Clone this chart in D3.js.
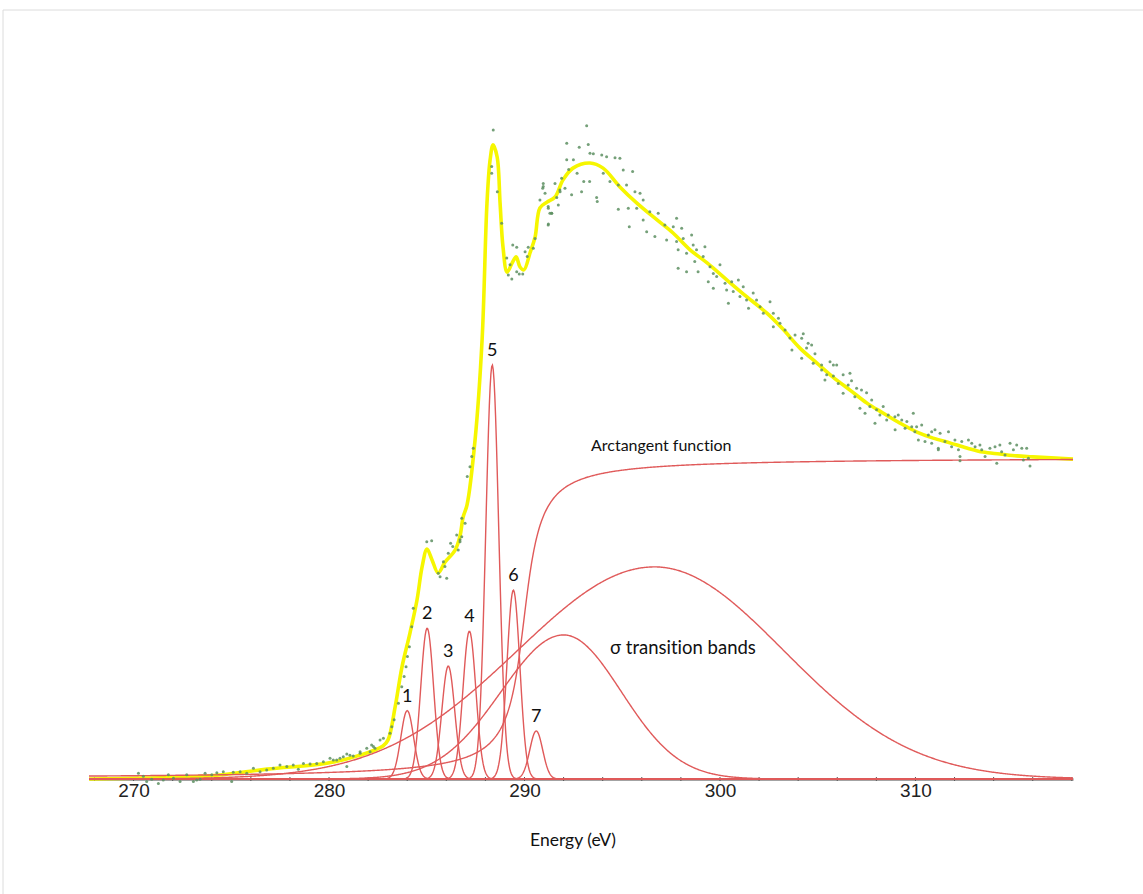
<!DOCTYPE html>
<html>
<head>
<meta charset="utf-8">
<script src="https://cdn.jsdelivr.net/npm/d3@7"></script>
<style>
  html, body { margin: 0; padding: 0; background: #fff; }
  svg { display: block; }
  text { font-variant-ligatures: none; }
</style>
</head>
<body>
<svg id="chart" width="1143" height="894"></svg>
<script>
// Energy axis ticks (eV)
const tickEnergies = [270, 280, 290, 300, 310];
const minorTickEnergies = d3.range(268, 319, 2);

// Fitted pre-edge / edge peaks (Gaussian components): id, centre (eV), height, sigma (eV)
const peakIds = ['1', '2', '3', '4', '5', '6', '7'];
const peakCenters = [284.0, 285.02, 286.1, 287.18, 288.35, 289.43, 290.6];
const peakHeights = [0.215, 0.474, 0.355, 0.465, 1.302, 0.594, 0.151];
const peakSigmas = [0.33, 0.33, 0.33, 0.33, 0.33, 0.33, 0.33];

// Broad sigma* transition bands (asymmetric Gaussians)
const bandCenters = [292.0, 296.65];
const bandHeights = [0.453, 0.667];
const bandSigmaLeft = [3.2, 7.0];
const bandSigmaRight = [2.95, 6.6];

// Arctangent edge step
const stepCenter = 289.98;
const stepWidth = 0.64;
const stepHeight = 1.012;

// Total fit curve (yellow): [energy, intensity]
const fitCurve = [
  [267.72, 0.0], [270.5, 0.003], [273.76, 0.009], [276.83, 0.031], [279.95, 0.05],
  [281.59, 0.075], [282.76, 0.104], [283.02, 0.123], [283.38, 0.226], [283.73, 0.352],
  [284.14, 0.459], [284.5, 0.563], [284.76, 0.667], [285.01, 0.723], [285.27, 0.689],
  [285.58, 0.648], [285.93, 0.682], [286.45, 0.72], [286.7, 0.764], [286.86, 0.824],
  [287.06, 0.862], [287.47, 1.066], [287.83, 1.381], [288.08, 1.811], [288.24, 1.947],
  [288.39, 1.994], [288.6, 1.956], [288.75, 1.811], [288.9, 1.673], [289.11, 1.594],
  [289.37, 1.623], [289.57, 1.642], [289.77, 1.61], [289.97, 1.601], [290.28, 1.654],
  [290.54, 1.704], [290.79, 1.796], [291.15, 1.814], [291.56, 1.83], [291.97, 1.884],
  [292.48, 1.921], [293.35, 1.937], [294.02, 1.921], [294.88, 1.862], [295.75, 1.811],
  [296.78, 1.758], [297.6, 1.717], [298.47, 1.664], [299.34, 1.623], [300.36, 1.569],
  [301.38, 1.516], [302.4, 1.465], [303.17, 1.418], [304.09, 1.355], [304.96, 1.308],
  [305.78, 1.264], [306.65, 1.223], [307.52, 1.182], [308.34, 1.151], [309.21, 1.119],
  [310.08, 1.091], [310.9, 1.072], [311.76, 1.057], [312.63, 1.041], [313.45, 1.028],
  [314.32, 1.022], [315.19, 1.016], [316.01, 1.013], [318.06, 1.006]
];

// Measured spectrum points (green dots): [energy, intensity]
const measured = [
  [270.25, 0.018], [270.5, 0.009], [270.67, -0.008], [270.93, -0.001], [271.27, -0.014],
  [271.52, -0.003], [271.78, 0.013], [272.04, 0.002], [272.38, -0.008], [272.72, 0.013],
  [273.06, -0.008], [273.23, -0.003], [273.4, -0.001], [273.66, 0.018], [274.0, 0.013],
  [274.26, 0.02], [274.59, 0.023], [275.02, -0.008], [275.1, 0.021], [275.45, 0.023],
  [275.79, 0.018], [276.13, 0.034], [276.47, 0.023], [276.81, 0.028], [277.15, 0.034],
  [277.49, 0.044], [277.84, 0.039], [278.17, 0.044], [278.43, 0.031], [278.69, 0.049],
  [279.03, 0.047], [279.37, 0.049], [279.71, 0.054], [280.05, 0.065], [280.22, 0.06],
  [280.39, 0.06], [280.56, 0.065], [280.73, 0.07], [280.91, 0.079], [280.91, 0.039],
  [281.07, 0.075], [281.24, 0.072], [281.59, 0.081], [281.59, 0.086], [281.93, 0.097],
  [282.1, 0.086], [282.18, 0.107], [282.27, 0.102], [282.35, 0.097], [282.61, 0.123],
  [282.78, 0.128], [283.12, 0.144], [283.21, 0.164], [283.33, 0.186], [283.55, 0.238],
  [283.72, 0.29], [283.84, 0.322], [283.94, 0.353], [284.01, 0.385], [284.11, 0.416],
  [284.23, 0.479], [284.31, 0.537], [285.0, 0.746], [285.25, 0.749], [285.59, 0.647],
  [285.68, 0.636], [285.85, 0.683], [285.93, 0.668], [286.02, 0.631], [286.1, 0.71],
  [286.22, 0.741], [286.33, 0.731], [286.53, 0.767], [286.61, 0.72], [286.7, 0.746],
  [286.7, 0.752], [286.79, 0.762], [286.79, 0.82], [286.96, 0.804], [287.07, 0.951],
  [287.21, 0.982], [287.3, 1.014], [287.38, 1.04], [288.4, 2.041], [288.32, 1.926],
  [288.32, 1.905], [288.61, 1.847], [288.83, 1.748], [289.4, 1.679], [289.6, 1.672],
  [289.09, 1.638], [289.26, 1.617], [289.17, 1.585], [289.35, 1.572], [289.6, 1.595],
  [289.73, 1.588], [289.91, 1.588], [290.03, 1.658], [290.19, 1.672], [290.14, 1.643],
  [290.45, 1.669], [290.54, 1.7], [290.79, 1.821], [290.96, 1.873], [291.05, 1.842],
  [290.93, 1.858], [291.22, 1.795], [291.3, 1.779], [291.39, 1.779], [291.22, 1.745],
  [291.65, 1.829], [291.82, 1.847], [291.73, 1.805], [291.9, 1.889], [292.07, 1.858],
  [293.18, 2.054], [292.16, 1.999], [292.8, 1.987], [293.26, 1.995], [293.35, 1.968],
  [293.52, 1.966], [293.95, 1.962], [294.2, 1.957], [294.63, 1.954], [294.88, 1.952],
  [292.16, 1.947], [292.5, 1.947], [292.26, 1.917], [292.69, 1.905], [293.03, 1.879],
  [293.33, 1.879], [292.92, 1.847], [292.41, 1.837], [291.81, 1.852], [291.56, 1.873],
  [290.96, 1.863], [291.21, 1.8], [291.39, 1.779], [291.21, 1.742], [293.69, 1.829],
  [293.72, 1.816], [294.03, 1.905], [294.37, 1.879], [294.8, 1.868], [295.05, 1.915],
  [295.53, 1.91], [295.22, 1.868], [295.65, 1.847], [295.91, 1.842], [294.8, 1.792],
  [295.31, 1.795], [295.74, 1.795], [295.36, 1.737], [296.07, 1.821], [296.41, 1.784],
  [296.07, 1.758], [296.84, 1.779], [296.25, 1.721], [296.67, 1.706], [297.18, 1.742],
  [297.61, 1.737], [297.78, 1.763], [298.04, 1.732], [297.27, 1.695], [297.78, 1.69],
  [298.12, 1.7], [298.55, 1.711], [298.63, 1.679], [297.86, 1.664], [298.29, 1.653],
  [298.8, 1.664], [299.23, 1.674], [299.14, 1.643], [298.71, 1.627], [298.88, 1.595],
  [297.86, 1.606], [298.29, 1.595], [299.49, 1.611], [300.0, 1.617], [299.66, 1.59],
  [299.4, 1.564], [299.83, 1.58], [300.26, 1.559], [300.6, 1.564], [300.94, 1.569],
  [300.34, 1.538], [299.66, 1.543], [300.68, 1.533], [301.19, 1.548], [301.02, 1.517],
  [301.36, 1.506], [301.7, 1.528], [301.87, 1.506], [300.43, 1.496], [301.46, 1.48],
  [302.05, 1.485], [302.56, 1.501], [302.22, 1.465], [302.73, 1.465], [302.99, 1.449],
  [303.07, 1.433], [302.73, 1.422], [303.33, 1.412], [303.58, 1.387], [303.84, 1.396],
  [303.68, 1.349], [304.26, 1.4], [304.18, 1.386], [304.51, 1.37], [304.69, 1.365],
  [304.43, 1.355], [304.86, 1.337], [304.18, 1.323], [304.77, 1.307], [305.2, 1.302],
  [305.63, 1.312], [305.8, 1.302], [305.97, 1.302], [305.2, 1.286], [305.46, 1.271],
  [305.8, 1.267], [305.37, 1.255], [306.3, 1.271], [306.65, 1.276], [306.05, 1.244],
  [306.56, 1.239], [306.73, 1.252], [306.3, 1.213], [306.99, 1.229], [307.24, 1.223],
  [306.9, 1.202], [307.5, 1.215], [307.76, 1.192], [307.16, 1.166], [307.42, 1.15],
  [307.67, 1.171], [308.01, 1.161], [308.35, 1.171], [308.18, 1.145], [307.93, 1.119],
  [308.61, 1.145], [308.95, 1.139], [309.12, 1.145], [309.89, 1.15], [308.53, 1.129],
  [308.96, 1.098], [309.3, 1.129], [309.56, 1.124], [309.81, 1.108], [309.47, 1.103],
  [310.06, 1.108], [310.32, 1.113], [309.97, 1.092], [310.15, 1.066], [310.66, 1.082],
  [310.83, 1.092], [311.0, 1.098], [311.26, 1.087], [311.69, 1.092], [310.49, 1.061],
  [310.83, 1.056], [311.17, 1.04], [311.51, 1.061], [312.02, 1.066], [311.85, 1.045],
  [312.2, 1.035], [312.37, 1.061], [312.71, 1.066], [312.88, 1.056], [312.28, 1.014],
  [313.05, 1.045], [313.3, 1.05], [313.39, 1.035], [313.56, 1.014], [313.81, 1.04],
  [314.07, 1.045], [314.32, 1.05], [314.41, 1.029], [314.58, 1.019], [314.16, 0.993],
  [314.84, 1.056], [315.18, 1.05], [315.01, 1.035], [315.44, 1.04], [315.69, 1.04],
  [315.52, 1.003], [315.86, 0.984], [315.78, 1.009], [312.28, 1.001], [311.17, 1.035]
];

const svg = d3.select('#chart');

// thin frame at top and left of the original figure
svg.append('line').attr('x1', 3).attr('y1', 10).attr('x2', 1143).attr('y2', 10)
  .attr('stroke', '#dcdcdc').attr('stroke-width', 1);
svg.append('line').attr('x1', 3).attr('y1', 10).attr('x2', 3).attr('y2', 894)
  .attr('stroke', '#dcdcdc').attr('stroke-width', 1);

const x = d3.scaleLinear().domain([267.72, 318.06]).range([89, 1073]);
const y = d3.scaleLinear().domain([0, 1]).range([779, 461]);

// x axis
const axisG = svg.append('g').attr('transform', `translate(0,${y(0)})`);
axisG.call(d3.axisBottom(x).tickValues(tickEnergies).tickSize(0).tickPadding(5)
  .tickFormat(d3.format('d')));
axisG.select('.domain').attr('stroke', '#858585').attr('stroke-width', 2.4);
axisG.selectAll('text')
  .style('font-family', '"Liberation Sans", Arial, sans-serif')
  .style('font-size', '19px')
  .attr('fill', '#222');

axisG.selectAll('.minor')
  .data(minorTickEnergies)
  .enter()
  .append('line')
  .attr('class', 'minor')
  .attr('x1', d => x(d)).attr('x2', d => x(d))
  .attr('y1', -2).attr('y2', 2)
  .attr('stroke', '#555').attr('stroke-width', 1);

// component curves
const energies = d3.range(267.72, 318.06, 0.04).concat([318.06]);
const line = d3.line().x(d => x(d[0])).y(d => y(d[1]));

const gauss = (e, c, h, s) => h * Math.exp(-((e - c) ** 2) / (2 * s * s));

const components = [];
peakCenters.forEach((c, i) => {
  components.push(energies.map(e => [e, gauss(e, c, peakHeights[i], peakSigmas[i])]));
});
bandCenters.forEach((c, i) => {
  components.push(energies.map(e => [e, gauss(e, c, bandHeights[i], e < c ? bandSigmaLeft[i] : bandSigmaRight[i])]));
});
components.push(energies.map(e => [e, stepHeight * (0.5 + Math.atan((e - stepCenter) / stepWidth) / Math.PI)]));

// total fit (yellow)
svg.append('path')
  .datum(fitCurve)
  .attr('d', line.curve(d3.curveCatmullRom.alpha(0.5)))
  .attr('fill', 'none')
  .attr('stroke', '#f6f600')
  .attr('stroke-width', 3.6)
  .attr('stroke-linejoin', 'round');

line.curve(d3.curveLinear);
svg.append('g')
  .selectAll('path')
  .data(components)
  .enter()
  .append('path')
  .attr('d', line)
  .attr('fill', 'none')
  .attr('stroke', '#e05a5a')
  .attr('stroke-width', 1.4);

// measured points
svg.append('g')
  .selectAll('circle')
  .data(measured)
  .enter()
  .append('circle')
  .attr('cx', d => x(d[0]))
  .attr('cy', d => y(d[1]))
  .attr('r', 1.5)
  .attr('fill', '#5d8f62')
  .attr('opacity', 0.85);

// peak numbers
const annoFont = 'Lato, "Open Sans", sans-serif';
svg.append('g')
  .selectAll('text')
  .data(peakIds)
  .enter()
  .append('text')
  .attr('x', (d, i) => x(peakCenters[i]))
  .attr('y', (d, i) => y(peakHeights[i]) - 9)
  .attr('text-anchor', 'middle')
  .style('font-family', annoFont)
  .style('font-size', '18px')
  .attr('fill', '#111')
  .text(d => d);

svg.append('text')
  .attr('x', 591).attr('y', 451)
  .style('font-family', annoFont).style('font-size', '16px').attr('fill', '#111')
  .text('Arctangent function');

svg.append('text')
  .attr('x', 610).attr('y', 654)
  .style('font-family', annoFont).style('font-size', '18.5px').attr('fill', '#111')
  .text('σ transition bands');

svg.append('text')
  .attr('x', 573).attr('y', 846)
  .attr('text-anchor', 'middle')
  .style('font-family', annoFont).style('font-size', '17.5px').attr('fill', '#111')
  .text('Energy (eV)');
</script>
</body>
</html>
